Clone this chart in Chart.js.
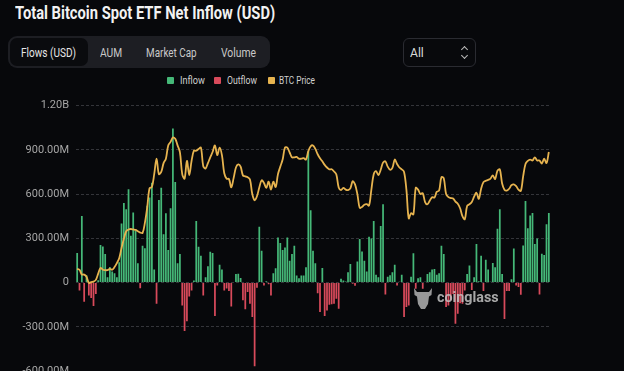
<!DOCTYPE html>
<html>
<head>
<meta charset="utf-8">
<script src="https://cdn.jsdelivr.net/npm/chart.js@4/dist/chart.umd.min.js"></script>
<style>
body { margin: 0; width: 624px; height: 371px; overflow: hidden; background: #07080b; position: relative; font-family: Roboto, "Noto Sans", sans-serif; }
.abs { position: absolute; white-space: nowrap; line-height: 1; transform-origin: 0 50%; }
.titulo { left: 15px; top: 4px; font-size: 18px; font-weight: 700; color: #f2f2f2; }
.abas { position: absolute; left: 8px; top: 36px; width: 262px; height: 32px; border-radius: 9px; background: #1d1e23; }
.ativa { position: absolute; left: 10px; top: 38px; width: 78px; height: 28px; border-radius: 7px; background: #0a0b0e; }
.aba { top: 46px; font-size: 13px; color: #c9c9c9; }
.seletor { position: absolute; left: 403px; top: 38px; width: 71px; height: 27px; border: 1px solid #2a2b31; border-radius: 6px; background: #08090c; }
.seta { position: absolute; left: 462px; width: 4px; height: 4px; border-left: 1px solid #bbb; border-top: 1px solid #bbb; }
.leg { top: 75px; font-size: 11px; color: #d0d0d0; }
.caixa { position: absolute; top: 77px; width: 7px; height: 7px; border-radius: 1px; }
#wrap { position: absolute; left: 0; top: 92px; width: 624px; height: 300px; }
.marca { position: absolute; left: 413px; top: 287px; opacity: 0.8; }
.marcaTxt { left: 437px; top: 290px; font-size: 15px; font-weight: 700; color: #c4c4c4; opacity: 0.85; }
</style>
</head>
<body>
<div class="abs titulo" data-w="260">Total Bitcoin Spot ETF Net Inflow (USD)</div>
<div class="abas"></div>
<div class="ativa"></div>
<div class="abs aba" style="left:21px;color:#e6e6e6" data-w="55">Flows (USD)</div>
<div class="abs aba" style="left:100px" data-w="22">AUM</div>
<div class="abs aba" style="left:146px" data-w="51">Market Cap</div>
<div class="abs aba" style="left:221px" data-w="35">Volume</div>
<div class="seletor"></div>
<div class="abs aba" style="left:410px;color:#d8d8d8" data-w="14">All</div>
<div class="seta" style="top:47px;transform:rotate(45deg)"></div>
<div class="seta" style="top:53px;transform:rotate(225deg)"></div>

<div class="caixa" style="left:167px;background:#45b878"></div>
<div class="abs leg" style="left:180px" data-w="25">Inflow</div>
<div class="caixa" style="left:214px;background:#d84a5b"></div>
<div class="abs leg" style="left:227px" data-w="30">Outflow</div>
<div class="caixa" style="left:268px;background:#e6b34f"></div>
<div class="abs leg" style="left:279px" data-w="36">BTC Price</div>

<div id="wrap"><canvas id="graficoFluxos"></canvas></div>

<svg class="marca" width="20" height="23" viewBox="0 0 20 23">
	<path d="M1 1 L4 5 L16 5 L19 1 L18.5 8 L16 9.5 L15 17 L12 22 L8 22 L5 17 L4 9.5 L1.5 8 Z" fill="#bdbdbd"/>
</svg>
<div class="abs marcaTxt" data-w="62">coinglass</div>

<script>
// fluxo liquido diario em milhoes de USD
fluxosMilhoes = [
	200, -54, 452, -130, 50, -88, -105, -160, -78, 15,
	254, 245, 193, 36, 105, 74, 63, 36, 137, 400,
	540, 497, 632, 317, 475, 351, 130, -38, 250, 232,
	520, 576, 677, 88, -144, 560, 643, 328, 470, 220,
	504, 1044, 682, 130, 193,
	-155, -328, -263, -95, -54, 13, 418, 243, 182, -88,
	36, 110, 209, 200, -227, -20, 121, 88, -54, -40,
	-58, -162, -3, 58, 60, 31, -121, -182, -65, -144,
	-234, -567, -36, 378, 216, -20, 9, -11, -88, 63,
	97, 306, 268, 220, 238, 306, 148, 193, 250, 47,
	29, 47, 47, 103, 891, 490, 216, 130, -72, -200,
	99, -227, -189, -151, -148, -144, -110, -178, 25, 13,
	7, 70, 126, -9, -22, 142, 295, 211, 148, 74,
	310, 299, 418, 52,
	36, 383, 531, -81, 40, 50, 70, 120, -20, 5,
	52, -234, -166, -155, 40, 198, -43, 29, 36, -43,
	5, 58, 70, 88, 92, 52, 63, 250, 193, -166,
	-155, -120, -77, -279, -212, -140, -144, -54, 58, 115,
	-50, 36, 261, 9, 182, -58, 155, 88, 5, 133,
	103, 365, 497, 58, -248, -58, -58, 22, 230, -20,
	-31, -83, 252, 553, 369, 454, 472, 261, 299, -81,
	196, 187, 396, 472
]

// preco do BTC em milhares de USD
precoBtcMil = [
	43.1, 42.9, 41.8, 41.8, 41.3, 39.9, 40.1, 40.2, 40.6, 42.0,
	43.3, 42.9, 42.8, 42.8, 43.1, 42.9, 43.5, 44.4, 45.5, 47.8,
	49.9, 51.6, 52.0, 52.1, 52.0, 51.9, 51.6, 51.3, 51.2, 53.5,
	57.0, 61.3, 61.6, 64.5, 68.0, 64.5, 65.0, 67.0, 68.0, 71.0,
	71.8, 72.8, 72.5, 71.0, 69.5, 64.5, 63.5, 67.5, 64.3, 67.5,
	69.8, 69.8, 70.2, 70.5, 66.3, 65.8, 67.0, 68.3, 69.5, 71.0,
	68.8, 70.5, 68.8, 64.7, 63.5, 63.4, 61.5, 63.6, 66.0, 66.7,
	66.2, 64.2, 64.0, 63.8, 63.3, 60.0, 58.6, 59.5, 61.5, 63.1,
	62.5, 61.4, 62.8, 61.0, 62.8, 61.6, 64.5, 66.2, 67.8, 70.5,
	70.5, 69.4, 68.3, 68.3, 68.4, 68.0, 68.0, 68.1, 67.8, 69.7,
	70.8, 71.0, 70.2, 69.0, 68.1, 67.4, 66.6, 66.0, 65.6, 65.6,
	65.1, 64.4, 61.5, 60.9, 61.4, 61.0, 60.9, 61.3, 62.9, 62.2,
	60.0, 56.9, 57.1, 57.6, 57.7, 57.4, 61.0, 64.5, 65.2, 64.3,
	65.5, 67.1, 67.4, 66.2, 65.5, 65.9, 67.8, 66.8, 66.0, 65.6,
	65.0, 61.0, 54.5, 55.7, 55.4, 61.4, 61.0, 60.0, 60.2, 58.2,
	57.7, 58.5, 59.3, 59.2, 60.5, 60.8, 63.8, 63.6, 60.0, 59.3,
	59.1, 59.0, 58.3, 57.8, 56.8, 55.0, 54.3, 57.3, 57.7, 58.2,
	59.4, 60.3, 58.9, 61.2, 62.7, 63.0, 63.2, 63.5, 64.2, 63.4,
	65.3, 65.6, 62.4, 61.0, 60.8, 61.2, 62.0, 62.2, 61.8, 61.0,
	60.7, 64.0, 66.8, 67.5, 67.8, 67.6, 68.3, 67.6, 67.6, 66.9,
	68.0, 67.0, 69.5
]

rotulosY = ['-600.00M', '-300.00M', '0', '300.00M', '600.00M', '900.00M', '1.20B']
minY = -600
maxY = 1200
passoY = 300

verde = '#45b878'
vermelho = '#d84a5b'
amarelo = '#e6b34f'

// encaixa a largura dos textos do cabecalho
document.querySelectorAll('[data-w]').forEach(function (el) {
	el.style.transform = 'scaleX(' + (el.dataset.w / el.offsetWidth) + ')'
})

function makeObjetoFluxos() {
	dias = fluxosMilhoes.map((v, i) => 'D' + (i + 1))
	entradas = fluxosMilhoes.map(v => v > 0 ? v : null)
	saidas = fluxosMilhoes.map(v => v < 0 ? v : null)
	return {
		type: 'bar',
		data: {
			labels: dias,
			datasets: [
				{
					label: 'Inflow',
					data: entradas,
					backgroundColor: verde,
					barPercentage: 0.75,
					categoryPercentage: 1,
					order: 1,
				},
				{
					label: 'Outflow',
					data: saidas,
					backgroundColor: vermelho,
					barPercentage: 0.75,
					categoryPercentage: 1,
					order: 1,
				},
				{
					type: 'line',
					label: 'BTC Price',
					data: precoBtcMil,
					yAxisID: 'y2',
					borderColor: amarelo,
					backgroundColor: amarelo,
					borderWidth: 1.8,
					pointRadius: 0,
					tension: 0.35,
					order: 0,
				},
			],
		},
		options: {
			responsive: true,
			maintainAspectRatio: false,
			animation: false,
			layout: {
				padding: { top: 12, right: 74, bottom: 21, left: 0 }
			},
			plugins: {
				legend: { display: false },
				tooltip: { enabled: false },
			},
			scales: {
				x: {
					display: false,
					stacked: true,
				},
				y: {
					min: minY,
					max: maxY,
					afterFit: function (scale) {
						scale.width = 76
					},
					ticks: {
						stepSize: passoY,
						padding: 7,
						color: '#a6a6a6',
						font: { family: 'Roboto', size: 11 },
						callback: function (val) {
							return rotulosY[Math.round((val - minY) / passoY)]
						}
					},
					grid: {
						color: '#34353a',
						drawTicks: false,
					},
					border: {
						display: false,
						dash: [3, 2],
					},
				},
				y2: {
					display: false,
					min: 20,
					max: 80,
				},
			},
		},
	}
}

var ctx = document.getElementById('graficoFluxos').getContext('2d')
window.graficoFluxos = new Chart(ctx, makeObjetoFluxos())
</script>
</body>
</html>
